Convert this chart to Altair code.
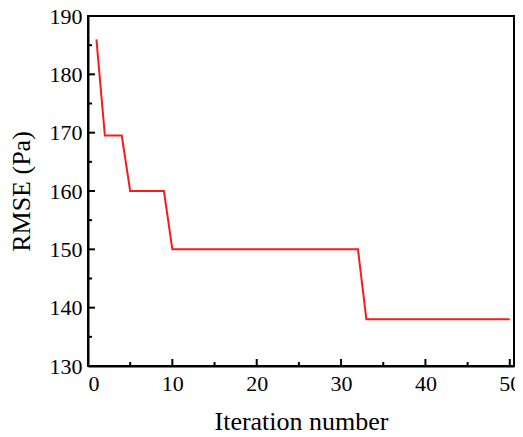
import altair as alt
import pandas as pd

iterations = list(range(1, 51))
rmse = ([186.0]
        + [169.5] * 3
        + [160.0] * 5
        + [150.0] * 23
        + [138.0] * 18)

x_major = [0, 10, 20, 30, 40, 50]
x_minor = [5, 15, 25, 35, 45]
y_major = [130, 140, 150, 160, 170, 180, 190]
y_minor = [135, 145, 155, 165, 175, 185]

W, H = 426, 350
FONT = "Liberation Serif"

df = pd.DataFrame({"iter": iterations, "rmse": rmse})

xscale = alt.Scale(domain=[0, 50.5], nice=False, zero=False)
yscale = alt.Scale(domain=[130, 190], nice=False, zero=False)

line = alt.Chart(df).mark_line(color="#f51c1c", strokeWidth=2).encode(
    x=alt.X("iter:Q", scale=xscale, title="Iteration number",
            axis=alt.Axis(values=x_major, format="d", ticks=False, grid=False,
                          labelFont=FONT, labelFontSize=22, labelColor="black",
                          titleFont=FONT, titleFontSize=26, titleFontWeight="normal",
                          titleColor="black",
                          labelPadding=7, titlePadding=14)),
    y=alt.Y("rmse:Q", scale=yscale, title="RMSE (Pa)",
            axis=alt.Axis(values=y_major, format="d", ticks=False, grid=False,
                          labelFont=FONT, labelFontSize=22, labelColor="black",
                          titleFont=FONT, titleFontSize=26, titleFontWeight="normal",
                          titleColor="black",
                          labelPadding=6, titlePadding=15)),
)

xticks_major = alt.Chart(pd.DataFrame({"v": x_major})).mark_rule(color="black", strokeWidth=2).encode(
    x=alt.X("v:Q", scale=xscale), y=alt.value(H), y2=alt.value(H - 7))
xticks_minor = alt.Chart(pd.DataFrame({"v": x_minor})).mark_rule(color="black", strokeWidth=2).encode(
    x=alt.X("v:Q", scale=xscale), y=alt.value(H), y2=alt.value(H - 4))
yticks_major = alt.Chart(pd.DataFrame({"v": y_major})).mark_rule(color="black", strokeWidth=2).encode(
    y=alt.Y("v:Q", scale=yscale), x=alt.value(0), x2=alt.value(7))
yticks_minor = alt.Chart(pd.DataFrame({"v": y_minor})).mark_rule(color="black", strokeWidth=2).encode(
    y=alt.Y("v:Q", scale=yscale), x=alt.value(0), x2=alt.value(4))

chart = alt.layer(line, xticks_major, xticks_minor, yticks_major, yticks_minor).properties(
    width=W, height=H,
    autosize=alt.AutoSizeParams(type="none"),
    padding={"left": 80, "top": 8, "right": 1, "bottom": 72},
).configure(
    font=FONT
).configure_view(
    stroke="black", strokeWidth=2
).configure_axis(
    domainColor="black", domainWidth=2,
    labelFont=FONT, titleFont=FONT,
)

chart.save("out.html", embed_options={"renderer": "svg", "actions": False})
